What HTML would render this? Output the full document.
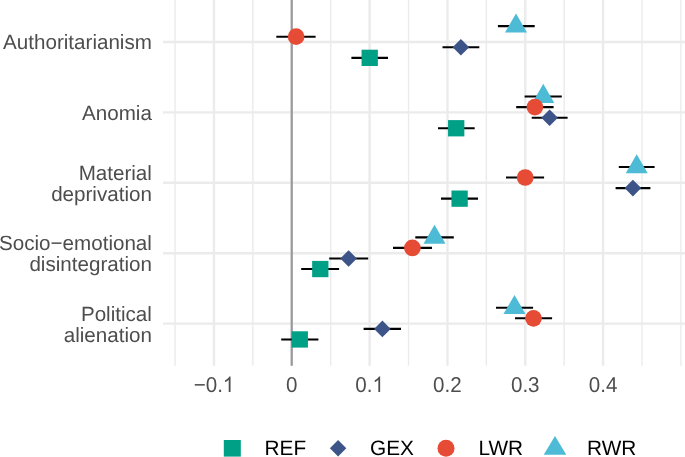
<!DOCTYPE html><html><head><meta charset="utf-8"><style>html,body{margin:0;padding:0;background:#fff;}svg{display:block;will-change:transform;}text{font-family:"Liberation Sans",sans-serif;text-rendering:geometricPrecision;}</style></head><body>
<svg width="685" height="457" viewBox="0 0 685 457">
<rect width="685" height="457" fill="#fff"/>
<line x1="175.07" y1="0" x2="175.07" y2="365.8" stroke="#EBEBEB" stroke-width="1.4"/>
<line x1="213.98" y1="0" x2="213.98" y2="365.8" stroke="#EBEBEB" stroke-width="2.4"/>
<line x1="252.89" y1="0" x2="252.89" y2="365.8" stroke="#EBEBEB" stroke-width="1.4"/>
<line x1="291.80" y1="0" x2="291.80" y2="365.8" stroke="#EBEBEB" stroke-width="2.4"/>
<line x1="330.71" y1="0" x2="330.71" y2="365.8" stroke="#EBEBEB" stroke-width="1.4"/>
<line x1="369.62" y1="0" x2="369.62" y2="365.8" stroke="#EBEBEB" stroke-width="2.4"/>
<line x1="408.53" y1="0" x2="408.53" y2="365.8" stroke="#EBEBEB" stroke-width="1.4"/>
<line x1="447.44" y1="0" x2="447.44" y2="365.8" stroke="#EBEBEB" stroke-width="2.4"/>
<line x1="486.35" y1="0" x2="486.35" y2="365.8" stroke="#EBEBEB" stroke-width="1.4"/>
<line x1="525.26" y1="0" x2="525.26" y2="365.8" stroke="#EBEBEB" stroke-width="2.4"/>
<line x1="564.17" y1="0" x2="564.17" y2="365.8" stroke="#EBEBEB" stroke-width="1.4"/>
<line x1="603.08" y1="0" x2="603.08" y2="365.8" stroke="#EBEBEB" stroke-width="2.4"/>
<line x1="641.99" y1="0" x2="641.99" y2="365.8" stroke="#EBEBEB" stroke-width="1.4"/>
<line x1="680.90" y1="0" x2="680.90" y2="365.8" stroke="#EBEBEB" stroke-width="1.4"/>
<line x1="163" y1="42.00" x2="685" y2="42.00" stroke="#EBEBEB" stroke-width="2.4"/>
<line x1="163" y1="112.40" x2="685" y2="112.40" stroke="#EBEBEB" stroke-width="2.4"/>
<line x1="163" y1="182.80" x2="685" y2="182.80" stroke="#EBEBEB" stroke-width="2.4"/>
<line x1="163" y1="253.20" x2="685" y2="253.20" stroke="#EBEBEB" stroke-width="2.4"/>
<line x1="163" y1="323.60" x2="685" y2="323.60" stroke="#EBEBEB" stroke-width="2.4"/>
<line x1="291.72" y1="0" x2="291.72" y2="365.8" stroke="#999999" stroke-width="2.2"/>
<line x1="351.4" y1="57.85" x2="388" y2="57.85" stroke="#000" stroke-width="2.1"/>
<line x1="438" y1="128.25" x2="474.7" y2="128.25" stroke="#000" stroke-width="2.1"/>
<line x1="441" y1="198.65" x2="478" y2="198.65" stroke="#000" stroke-width="2.1"/>
<line x1="301.2" y1="269.05" x2="339.1" y2="269.05" stroke="#000" stroke-width="2.1"/>
<line x1="281.2" y1="339.45000000000005" x2="318.4" y2="339.45000000000005" stroke="#000" stroke-width="2.1"/>
<line x1="442.5" y1="47.3" x2="479.3" y2="47.3" stroke="#000" stroke-width="2.1"/>
<line x1="531.7" y1="117.7" x2="567.6" y2="117.7" stroke="#000" stroke-width="2.1"/>
<line x1="615.6" y1="188.10000000000002" x2="650.4" y2="188.10000000000002" stroke="#000" stroke-width="2.1"/>
<line x1="329.2" y1="258.5" x2="368.2" y2="258.5" stroke="#000" stroke-width="2.1"/>
<line x1="363.6" y1="328.90000000000003" x2="401" y2="328.90000000000003" stroke="#000" stroke-width="2.1"/>
<line x1="276.3" y1="36.7" x2="315.6" y2="36.7" stroke="#000" stroke-width="2.1"/>
<line x1="516.2" y1="107.10000000000001" x2="553.6" y2="107.10000000000001" stroke="#000" stroke-width="2.1"/>
<line x1="506" y1="177.5" x2="544.1" y2="177.5" stroke="#000" stroke-width="2.1"/>
<line x1="393" y1="247.9" x2="432" y2="247.9" stroke="#000" stroke-width="2.1"/>
<line x1="515" y1="318.3" x2="552.1" y2="318.3" stroke="#000" stroke-width="2.1"/>
<line x1="497.9" y1="26.15" x2="534.7" y2="26.15" stroke="#000" stroke-width="2.1"/>
<line x1="524.6" y1="96.55000000000001" x2="561.8" y2="96.55000000000001" stroke="#000" stroke-width="2.1"/>
<line x1="618.8" y1="166.95000000000002" x2="654.6" y2="166.95000000000002" stroke="#000" stroke-width="2.1"/>
<line x1="415.3" y1="237.35000000000002" x2="453.8" y2="237.35000000000002" stroke="#000" stroke-width="2.1"/>
<line x1="496" y1="307.75" x2="533.1" y2="307.75" stroke="#000" stroke-width="2.1"/>
<rect x="361.55" y="49.70" width="16.3" height="16.3" fill="#00A087"/>
<rect x="448.05" y="120.10" width="16.3" height="16.3" fill="#00A087"/>
<rect x="451.45" y="190.50" width="16.3" height="16.3" fill="#00A087"/>
<rect x="312.15" y="260.90" width="16.3" height="16.3" fill="#00A087"/>
<rect x="291.65" y="331.30" width="16.3" height="16.3" fill="#00A087"/>
<path d="M452.60 47.30L460.90 39.00L469.20 47.30L460.90 55.60Z" fill="#3C5488"/>
<path d="M541.30 117.70L549.60 109.40L557.90 117.70L549.60 126.00Z" fill="#3C5488"/>
<path d="M624.60 188.10L632.90 179.80L641.20 188.10L632.90 196.40Z" fill="#3C5488"/>
<path d="M340.30 258.50L348.60 250.20L356.90 258.50L348.60 266.80Z" fill="#3C5488"/>
<path d="M374.10 328.90L382.40 320.60L390.70 328.90L382.40 337.20Z" fill="#3C5488"/>
<path d="M516.00 13.45L527.00 32.50L505.00 32.50Z" fill="#4DBBD5"/>
<path d="M543.30 83.85L554.30 102.90L532.30 102.90Z" fill="#4DBBD5"/>
<path d="M636.70 154.25L647.70 173.30L625.70 173.30Z" fill="#4DBBD5"/>
<path d="M434.50 224.65L445.50 243.70L423.50 243.70Z" fill="#4DBBD5"/>
<path d="M514.50 295.05L525.50 314.10L503.50 314.10Z" fill="#4DBBD5"/>
<circle cx="296.10" cy="36.70" r="8.35" fill="#E64B35"/>
<circle cx="534.90" cy="107.10" r="8.35" fill="#E64B35"/>
<circle cx="525.20" cy="177.50" r="8.35" fill="#E64B35"/>
<circle cx="412.40" cy="247.90" r="8.35" fill="#E64B35"/>
<circle cx="533.50" cy="318.30" r="8.35" fill="#E64B35"/>
<text transform="translate(151.9,49.3) scale(1,1.0)" text-anchor="end" font-size="20.6" fill="#4D4D4D">Authoritarianism</text>
<text transform="translate(151.9,119.8) scale(1,1.0)" text-anchor="end" font-size="20.6" fill="#4D4D4D">Anomia</text>
<text transform="translate(151.9,179.6) scale(1,1.0)" text-anchor="end" font-size="20.6" fill="#4D4D4D">Material</text><text transform="translate(151.9,201.0) scale(1,1.0)" text-anchor="end" font-size="20.6" fill="#4D4D4D">deprivation</text>
<text transform="translate(151.9,250.2) scale(1,1.0)" text-anchor="end" font-size="20.6" fill="#4D4D4D">Socio−emotional</text><text transform="translate(151.9,270.9) scale(1,1.0)" text-anchor="end" font-size="20.6" fill="#4D4D4D">disintegration</text>
<text transform="translate(151.9,320.5) scale(1,1.0)" text-anchor="end" font-size="20.6" fill="#4D4D4D">Political</text><text transform="translate(151.9,341.6) scale(1,1.0)" text-anchor="end" font-size="20.6" fill="#4D4D4D">alienation</text>
<text transform="translate(193.65,391.9) scale(1,1.045)" font-size="20.6" fill="#4D4D4D">−0.</text>
<path transform="translate(222.86,391.9) scale(0.01006,-0.01051)" d="M763 0L583 0L583 1147Q518 1085 412 1023Q307 961 223 930L223 1104Q374 1175 487 1276Q600 1377 647 1472L763 1472Z" fill="#4D4D4D"/>
<text transform="translate(286.07,391.9) scale(1,1.045)" font-size="20.6" fill="#4D4D4D">0</text>
<text transform="translate(355.30,391.9) scale(1,1.045)" font-size="20.6" fill="#4D4D4D">0.</text>
<path transform="translate(372.48,391.9) scale(0.01006,-0.01051)" d="M763 0L583 0L583 1147Q518 1085 412 1023Q307 961 223 930L223 1104Q374 1175 487 1276Q600 1377 647 1472L763 1472Z" fill="#4D4D4D"/>
<text transform="translate(433.12,391.9) scale(1,1.045)" font-size="20.6" fill="#4D4D4D">0.2</text>
<text transform="translate(510.94,391.9) scale(1,1.045)" font-size="20.6" fill="#4D4D4D">0.3</text>
<text transform="translate(588.76,391.9) scale(1,1.045)" font-size="20.6" fill="#4D4D4D">0.4</text>
<rect x="223.8" y="440.0" width="17" height="16.6" fill="#00A087"/>
<path d="M329.90000000000003 448.3L338.1 440.1L346.3 448.3L338.1 456.5Z" fill="#3C5488"/>
<circle cx="446" cy="448.3" r="8.5" fill="#E64B35"/>
<path d="M555 435.9L566.3 454.8L543.7 454.8Z" fill="#4DBBD5"/>
<text transform="translate(264.6,455.3) scale(1,1.0)" font-size="20.8" fill="#000">REF</text>
<text transform="translate(370.0,455.3) scale(1,1.0)" font-size="20.8" fill="#000">GEX</text>
<text transform="translate(478.4,455.3) scale(1,1.0)" font-size="20.8" fill="#000">LWR</text>
<text transform="translate(587.1,455.3) scale(1,1.0)" font-size="20.8" fill="#000">RWR</text>
</svg></body></html>
